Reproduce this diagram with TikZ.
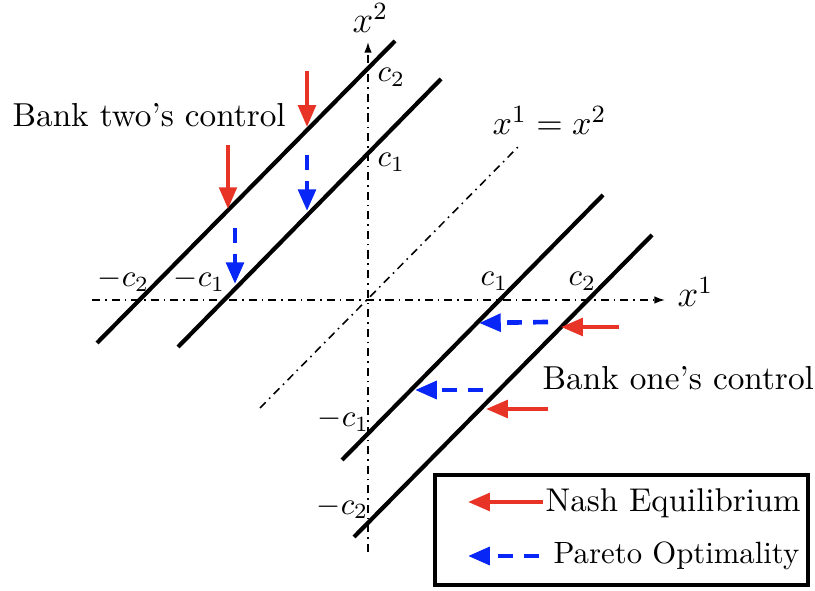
\documentclass[tikz,border=0pt]{standalone}
\usetikzlibrary{arrows.meta}
\definecolor{nashred}{RGB}{232,52,38}
\definecolor{paretoblue}{RGB}{8,38,245}
\tikzset{
  axisline/.style={line width=0.5pt, dash pattern=on 2.6pt off 1.6pt on 0.5pt off 1.6pt},
  ctrl/.style={line width=1.35pt, line cap=butt},
  nash/.style={draw=nashred, line width=1.3pt, -{Triangle[length=7pt,width=5.6pt]}},
  pareto/.style={draw=paretoblue, line width=1.5pt, dash pattern=on 4.8pt off 3.6pt, -{Triangle[length=7pt,width=5.6pt]}},
  lbl/.style={inner sep=0pt, anchor=base west},
  bigtxt/.style={font=\fontsize{10.7}{13}\selectfont},
  axtxt/.style={font=\fontsize{11.6}{14}\selectfont},
}
\begin{document}
\begin{tikzpicture}[x=0.322pt, y=-0.322pt]
\useasboundingbox (0,0) rectangle (815,591);
% axes
\coordinate (xs) at (92,300);
\coordinate (xe) at (665,300);
\coordinate (ys) at (368,552);
\coordinate (ye) at (368,42);
\draw[axisline, -{Latex[length=3.4pt,width=2.4pt]}] (xs) -- (xe);
\draw[axisline, -{Latex[length=3.4pt,width=2.4pt]}] (ys) -- (ye);
% diagonal
\coordinate (ds) at (260,408);
\coordinate (de) at (518,147);
\draw[axisline] (ds) -- (de);
% control lines
\coordinate (l1a) at (97,343);  \coordinate (l1b) at (395,41);
\coordinate (l2a) at (178,347); \coordinate (l2b) at (441,79);
\coordinate (l3a) at (342,460); \coordinate (l3b) at (603,195);
\coordinate (l4a) at (354,537); \coordinate (l4b) at (652,235);
\draw[ctrl] (l1a) -- (l1b);
\draw[ctrl] (l2a) -- (l2b);
\draw[ctrl] (l3a) -- (l3b);
\draw[ctrl] (l4a) -- (l4b);
% vertical arrows (bank two)
\coordinate (a1s) at (307,71);  \coordinate (a1e) at (307,127);
\coordinate (a2s) at (228,145); \coordinate (a2e) at (228,209);
\coordinate (b1s) at (307,155); \coordinate (b1e) at (307,211);
\coordinate (b2s) at (235,228); \coordinate (b2e) at (235,284);
\draw[nash] (a1s) -- (a1e);
\draw[nash] (a2s) -- (a2e);
\draw[pareto] (b1s) -- (b1e);
\draw[pareto] (b2s) -- (b2e);
% horizontal arrows (bank one)
\coordinate (b3s) at (548,322); \coordinate (b3e) at (479,323);
\coordinate (a3s) at (619,327); \coordinate (a3e) at (561,327);
\coordinate (b4s) at (483,390); \coordinate (b4e) at (415,390);
\coordinate (a4s) at (548,409); \coordinate (a4e) at (486,409);
\draw[pareto] (b3s) -- (b3e);
\draw[nash] (a3s) -- (a3e);
\draw[pareto] (b4s) -- (b4e);
\draw[nash] (a4s) -- (a4e);
% labels
\node[lbl, axtxt] (lx2) at (352,33) {$x^2$};
\node[lbl, axtxt] (lx1) at (677,307) {$x^1$};
\node[lbl, font=\fontsize{11.2}{13}\selectfont] (ldiag) at (492,135) {$x^1=x^2$};
\node[lbl] (lc2y) at (377,82) {$c_2$};
\node[lbl] (lc1y) at (377,167) {$c_1$};
\node[lbl] (lmc2x) at (97,287) {$-c_2$};
\node[lbl] (lmc1x) at (173,287) {$-c_1$};
\node[lbl] (lc1x) at (480,286) {$c_1$};
\node[lbl] (lc2x) at (568,286) {$c_2$};
\node[lbl] (lmc1y) at (317,427) {$-c_1$};
\node[lbl] (lmc2y) at (316,514) {$-c_2$};
\node[lbl, bigtxt] (btwo) at (12,127) {Bank two's control};
\node[lbl, bigtxt] (bone) at (542,390) {Bank one's control};
% legend
\coordinate (lg1) at (435,475);
\coordinate (lg2) at (808,585);
\draw[line width=1.35pt] (lg1) rectangle (lg2);
\coordinate (ln1) at (543,502); \coordinate (ln2) at (468,502);
\coordinate (lp1) at (539,556); \coordinate (lp2) at (468,556);
\draw[nash] (ln1) -- (ln2);
\draw[pareto] (lp1) -- (lp2);
\node[lbl, font=\fontsize{10.6}{12}\selectfont] (lnash) at (545,511) {Nash Equilibrium};
\node[lbl, font=\fontsize{9.9}{12}\selectfont] (lpar) at (553,563) {Pareto Optimality};
\end{tikzpicture}
\end{document}
